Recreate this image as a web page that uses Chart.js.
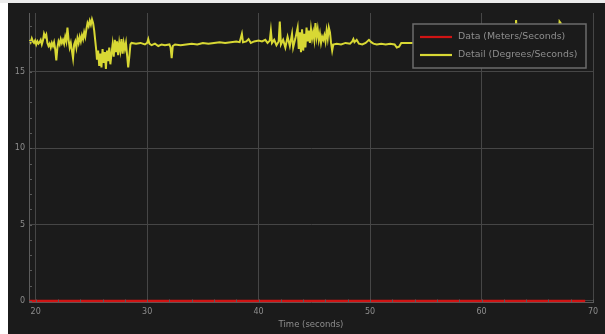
<!DOCTYPE html>
<html>
<head>
<meta charset="utf-8">
<script src="https://cdn.jsdelivr.net/npm/chart.js@4.4.1/dist/chart.umd.min.js"></script>
<style>
  html, body { margin: 0; padding: 0; background: #1b1b1b; width: 100%; height: 100%; overflow: hidden; }
  #edgeLeft { position: absolute; left: 0; top: 0; width: 8px; bottom: 0; background: #ffffff; }
  #edgeTop { position: absolute; left: 0; top: 0; right: 0; height: 3px; background: #ececec; }
  #panel { position: absolute; left: 8px; top: 3px; width: 597px; height: 331px; }
  canvas { display: block; }
</style>
</head>
<body>
<div id="edgeLeft"></div>
<div id="edgeTop"></div>
<div id="panel"><canvas id="chart" width="597" height="331"></canvas></div>
<script>
// Axis ticks
const xTicks = [20, 30, 40, 50, 60, 70];
const yTicks = [0, 5, 10, 15];

// Speed channel (m/s) – flat at zero over the whole run
const speedTime  = [19.45, 25, 30, 35, 40, 45, 50, 55, 60, 65, 69.3];
const speedValue = [0, 0, 0, 0, 0, 0, 0, 0, 0, 0, 0];

// Rate channel (deg/s)
const rateTime = [
  19.45, 19.55, 19.65, 19.75, 19.85, 19.95, 20.05, 20.15, 20.25, 20.35,
  20.45, 20.55, 20.65, 20.75, 20.85, 20.95, 21.05, 21.15, 21.25, 21.35,
  21.45, 21.55, 21.65, 21.75, 21.85, 21.95, 22.05, 22.15, 22.25, 22.35,
  22.45, 22.55, 22.65, 22.75, 22.85, 22.95, 23.05, 23.15, 23.25, 23.35,
  23.45, 23.55, 23.65, 23.75, 23.85, 23.95, 24.05, 24.15, 24.25, 24.35,
  24.45, 24.55, 24.65, 24.75, 24.85, 24.95, 25.05, 25.15, 25.25, 25.35,
  25.45, 25.5, 25.6, 25.7, 25.8, 25.9, 26.0, 26.1, 26.2, 26.3,
  26.4, 26.5, 26.6, 26.7, 26.8, 26.9, 27.0, 27.1, 27.2, 27.3,
  27.4, 27.5, 27.6, 27.7, 27.8, 27.9, 28.0, 28.1, 28.2, 28.3,
  28.4, 28.5, 28.6, 29.0, 29.4, 29.8, 30.0, 30.1, 30.2, 30.4,
  30.7, 31.0, 31.3, 31.6, 32.0, 32.1, 32.2, 32.3, 32.5, 33.0,
  33.5, 34.0, 34.5, 35.0, 35.5, 36.0, 36.5, 37.0, 37.5, 38.0,
  38.3, 38.5, 38.6, 38.9, 39.1, 39.3, 39.6, 40.0, 40.3, 40.6,
  40.8, 41.0, 41.1, 41.2, 41.4, 41.6, 41.8, 41.9, 42.0, 42.2,
  42.4, 42.6, 42.8, 43.0, 43.1, 43.3, 43.5, 43.6, 43.7, 43.8,
  43.9, 44.0, 44.1, 44.2, 44.3, 44.4, 44.5, 44.6, 44.7, 44.8,
  44.9, 45.0, 45.1, 45.2, 45.3, 45.4, 45.5, 45.6, 45.7, 45.8,
  45.9, 46.0, 46.1, 46.2, 46.3, 46.4, 46.5, 46.6, 46.7, 47.0,
  47.4, 47.8, 48.2, 48.4, 48.5, 48.6, 48.8, 49.0, 49.3, 49.6,
  49.9, 50.1, 50.3, 50.6, 51.0, 51.4, 51.8, 52.2, 52.4, 52.6,
  52.8, 53.3, 54.0, 56.0, 58.0, 60.0, 62.0, 63.0, 63.1, 63.2,
  64.0, 65.5, 66.9, 67.0, 67.1, 67.2, 68.5, 69.3
];
const rateValue = [
  17.1, 16.95, 17.2, 17.0, 16.9, 17.05, 16.8, 17.0, 16.85, 16.95,
  17.1, 16.8, 17.05, 17.5, 17.3, 17.45, 16.9, 16.7, 16.85, 16.6,
  16.9, 16.7, 16.95, 16.5, 15.75, 16.6, 17.0, 16.8, 17.15, 16.9,
  17.1, 16.85, 17.3, 17.0, 17.9, 17.1, 16.6, 16.9, 16.4, 15.9,
  16.8, 17.0, 16.6, 17.2, 16.9, 17.3, 17.0, 17.4, 17.15, 17.6,
  17.3, 17.8, 18.2, 18.0, 18.35, 18.1, 18.45, 18.2, 17.7, 17.0,
  16.3, 15.8, 16.4, 15.4, 16.2, 15.3, 16.5, 15.6, 16.3, 15.2,
  16.4, 15.7, 16.6, 15.5, 16.2, 16.8, 16.0, 17.1, 16.3, 17.0,
  16.1, 16.9, 16.4, 17.15, 16.2, 16.9, 16.5, 16.9, 16.1, 15.3,
  16.0, 16.8, 16.9, 16.85, 16.9, 16.8, 16.9, 17.15, 16.85, 16.75,
  16.85, 16.7, 16.8, 16.75, 16.8, 16.6, 15.9, 16.7, 16.8, 16.75,
  16.8, 16.85, 16.8, 16.9, 16.85, 16.9, 16.95, 16.9, 16.95, 17.0,
  16.95, 17.5, 16.95, 17.0, 17.15, 16.9, 17.0, 17.05, 17.0, 17.1,
  16.9, 17.05, 17.7, 16.9, 17.1, 16.75, 17.0, 18.3, 16.8, 17.1,
  16.6, 17.3, 16.7, 17.5, 16.6, 17.2, 17.9, 16.5, 17.6, 16.3,
  17.8, 16.4, 17.5, 16.6, 17.9, 17.0, 17.7, 16.9, 17.8, 17.2,
  17.6, 17.1, 18.2, 17.3, 17.8, 17.1, 17.5, 16.9, 17.3, 17.1,
  17.4, 17.0, 17.7, 17.2, 17.9, 17.6, 16.9, 16.4, 16.8, 16.85,
  16.8, 16.9, 16.85, 17.0, 17.15, 16.95, 17.1, 16.85, 16.8, 16.9,
  17.1, 16.95, 16.85, 16.8, 16.85, 16.8, 16.85, 16.8, 16.6, 16.65,
  16.9, 16.9, 16.9, 16.9, 16.9, 16.9, 16.9, 16.9, 18.4, 16.9,
  16.9, 16.9, 16.9, 18.3, 18.2, 16.9, 16.9, 16.9
];

const toPoints = (xs, ys) => xs.map((x, i) => ({ x: x, y: ys[i] }));

const textColor = '#8e8e8e';
const gridColor = '#464646';
const fontFamily = "'DejaVu Sans', sans-serif";

// Small inward tick marks between the labelled ticks
const minorTicks = {
  id: 'minorTicks',
  afterDraw(chart) {
    const { ctx, chartArea, scales } = chart;
    ctx.save();
    ctx.strokeStyle = '#5a5a5a';
    ctx.lineWidth = 1;
    ctx.beginPath();
    for (let v = 20; v <= 70; v += 2) {
      const px = Math.round(scales.x.getPixelForValue(v)) + 0.5;
      ctx.moveTo(px, chartArea.bottom);
      ctx.lineTo(px, chartArea.bottom - 3);
    }
    for (let v = 0; v <= 18; v += 1) {
      const py = Math.round(scales.y.getPixelForValue(v)) + 0.5;
      ctx.moveTo(chartArea.left, py);
      ctx.lineTo(chartArea.left + 3, py);
    }
    ctx.stroke();
    ctx.restore();
  }
};

// Boxed legend drawn inside the plot, top right
const boxLegend = {
  id: 'boxLegend',
  afterDraw(chart, args, opts) {
    const { ctx, chartArea } = chart;
    const w = 173, h = 44;
    const x0 = chartArea.right - opts.right - w;
    const y0 = chartArea.top + opts.top;
    ctx.save();
    ctx.fillStyle = '#1b1b1b';
    ctx.fillRect(x0, y0, w, h);
    ctx.strokeStyle = '#6c6c6c';
    ctx.lineWidth = 1.5;
    ctx.strokeRect(x0, y0, w, h);
    ctx.font = "9.4px " + fontFamily;
    ctx.textBaseline = 'middle';
    chart.data.datasets.forEach((ds, i) => {
      const cy = y0 + 13 + i * 18;
      ctx.strokeStyle = ds.borderColor;
      ctx.lineWidth = 2.2;
      ctx.beginPath();
      ctx.moveTo(x0 + 7, cy);
      ctx.lineTo(x0 + 39, cy);
      ctx.stroke();
      ctx.fillStyle = textColor;
      ctx.fillText(ds.label, x0 + 45, cy);
    });
    ctx.restore();
  }
};

new Chart(document.getElementById('chart'), {
  type: 'line',
  data: {
    datasets: [
      {
        label: 'Data (Meters/Seconds)',
        data: toPoints(speedTime, speedValue),
        borderColor: '#d01414',
        borderWidth: 2.5,
        pointRadius: 0,
        tension: 0
      },
      {
        label: 'Detail (Degrees/Seconds)',
        data: toPoints(rateTime, rateValue),
        borderColor: '#d8d834',
        borderWidth: 2,
        pointRadius: 0,
        tension: 0
      }
    ]
  },
  options: {
    responsive: false,
    animation: false,
    devicePixelRatio: 1,
    layout: { padding: { top: 10, right: 12, left: 0, bottom: 0 } },
    plugins: {
      legend: { display: false },
      tooltip: { enabled: false },
      boxLegend: { right: 7, top: 11 }
    },
    scales: {
      x: {
        type: 'linear',
        min: 19.4,
        max: 70,
        afterBuildTicks: s => { s.ticks = xTicks.map(v => ({ value: v })); },
        afterFit: s => { s.height = 31.5; },
        grid: { color: gridColor, drawTicks: false },
        border: { color: '#5c5c5c', width: 1 },
        ticks: { color: textColor, font: { size: 8, family: fontFamily }, padding: 5, maxRotation: 0 },
        title: {
          display: true,
          text: 'Time (seconds)',
          color: textColor,
          font: { size: 8.5, family: fontFamily },
          padding: { top: 0, bottom: 4 }
        }
      },
      y: {
        type: 'linear',
        min: -0.1,
        max: 18.86,
        afterBuildTicks: s => { s.ticks = yTicks.map(v => ({ value: v })); },
        afterFit: s => { s.width = 21; },
        grid: { color: gridColor, drawTicks: false },
        border: { color: '#5c5c5c', width: 1 },
        ticks: { color: textColor, font: { size: 8, family: fontFamily }, padding: 4 }
      }
    }
  },
  plugins: [minorTicks, boxLegend]
});
</script>
</body>
</html>
